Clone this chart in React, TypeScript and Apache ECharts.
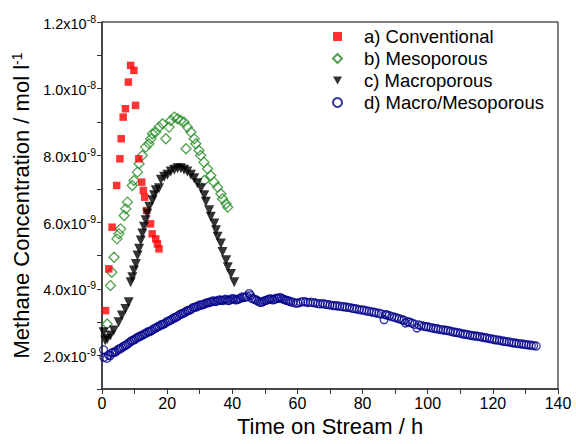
import React, { useEffect, useRef } from "react";
import * as echarts from "echarts";

// Values are in units of 1e-9 mol/l; time in hours.
const conventional: number[][] = [
  [1.1, 3.35], [2.1, 4.6], [3.1, 5.85], [4.5, 7.1], [5.5, 7.9], [5.9, 8.5],
  [6.5, 9.15], [7.2, 9.4], [8.1, 10.2], [8.8, 10.7], [9.8, 10.55], [10.3, 9.5],
  [11.3, 7.9], [12.2, 7.2], [12.7, 6.95], [13.1, 6.75], [13.7, 6.35], [14.9, 5.95],
  [15.4, 5.65], [16.5, 5.5], [17.0, 5.35], [17.5, 5.2],
];

const mesoporous: number[][] = [
  [1.6, 2.95], [2.6, 4.1], [3.0, 4.5], [3.7, 4.95], [4.6, 5.5], [5.2, 5.65],
  [5.7, 5.8], [6.8, 6.2], [7.3, 6.4], [7.8, 6.6], [9.3, 7.1], [9.8, 7.25],
  [10.9, 7.5], [11.4, 7.75], [12.4, 8.0], [13.4, 8.25], [14.4, 8.35], [15.0, 8.5],
  [15.5, 8.65], [16.5, 8.7], [17.5, 8.85], [18.6, 8.95], [19.6, 8.5], [20.6, 8.85],
  [21.1, 9.05], [22.2, 9.15], [23.2, 9.1], [24.2, 9.05], [25.2, 9.0], [25.8, 8.2],
  [26.2, 8.85], [27.3, 8.7], [28.3, 8.5], [28.8, 8.35], [29.8, 8.15], [30.3, 8.0],
  [31.3, 7.8], [31.4, 7.25], [32.4, 7.6], [33.4, 7.4], [34.4, 7.2], [35.5, 7.05],
  [36.5, 6.85], [37.0, 6.7], [38.1, 6.55], [38.6, 6.45],
];

const macroporous: number[][] = [
  [0.5, 2.7], [1.0, 2.45], [1.6, 2.5], [2.6, 2.6], [3.6, 2.75], [5.1, 3.0],
  [6.1, 3.2], [7.2, 3.4], [8.2, 3.6], [8.8, 4.2], [9.3, 4.35], [9.8, 4.55],
  [10.4, 4.75], [10.9, 5.0], [11.4, 5.2], [11.9, 5.45], [12.4, 5.66], [12.9, 5.86],
  [13.4, 6.06], [13.9, 6.26], [14.5, 6.46], [15.5, 6.66], [16.0, 6.81], [16.5, 6.96],
  [17.5, 7.02], [18.1, 7.27], [19.1, 7.36], [20.1, 7.42], [21.1, 7.52], [22.2, 7.57],
  [23.2, 7.62], [24.2, 7.62], [25.2, 7.57], [26.2, 7.52], [27.3, 7.42], [28.3, 7.32],
  [29.3, 7.17], [30.4, 7.02], [31.4, 6.81], [31.9, 6.61], [32.9, 6.36], [33.4, 6.16],
  [34.5, 5.96], [35.0, 5.76], [35.5, 5.56], [36.5, 5.36], [37.0, 5.11], [38.1, 4.86],
  [38.6, 4.65], [39.6, 4.45], [40.6, 4.2],
];

const macroMeso: number[][] = [
  [0.5, 2.17], [0.6, 1.95], [1.5, 1.92], [2.0, 2.02], [2.5, 2.0], [3.0, 2.08], [3.5, 2.1],
  [4.0, 2.1], [4.5, 2.14], [5.0, 2.19], [5.5, 2.2], [6.0, 2.23], [6.5, 2.27], [7.0, 2.3],
  [7.5, 2.32], [8.0, 2.36], [8.5, 2.4], [9.0, 2.44], [9.5, 2.46], [10.0, 2.48], [10.5, 2.52],
  [11.0, 2.55], [11.5, 2.57], [12.0, 2.6], [12.5, 2.62], [13.0, 2.65], [13.5, 2.67],
  [14.0, 2.71], [14.5, 2.72], [15.0, 2.74], [15.5, 2.77], [16.0, 2.81], [16.5, 2.83],
  [17.0, 2.86], [17.5, 2.88], [18.0, 2.92], [18.5, 2.93], [19.0, 2.95], [19.5, 2.98],
  [20.0, 3.02], [20.5, 3.04], [21.0, 3.06], [21.5, 3.09], [22.0, 3.13], [22.5, 3.14],
  [23.0, 3.17], [23.5, 3.2], [24.0, 3.24], [24.5, 3.25], [25.0, 3.27], [25.5, 3.3],
  [26.0, 3.34], [26.5, 3.35], [27.0, 3.37], [27.5, 3.4], [28.0, 3.44], [28.5, 3.45],
  [29.0, 3.46], [29.5, 3.49], [30.0, 3.52], [30.5, 3.51], [31.0, 3.53], [31.5, 3.55],
  [32.0, 3.58], [32.5, 3.58], [33.0, 3.6], [33.5, 3.61], [34.0, 3.64], [34.5, 3.63],
  [35.0, 3.62], [35.5, 3.65], [36.0, 3.67], [36.5, 3.66], [37.0, 3.65], [37.5, 3.67],
  [38.0, 3.69], [38.5, 3.66], [39.0, 3.65], [39.5, 3.68], [40.0, 3.71], [40.5, 3.7],
  [41.0, 3.67], [41.5, 3.68], [42.0, 3.7], [42.5, 3.72], [43.0, 3.76], [43.5, 3.74],
  [44.0, 3.75], [44.5, 3.78], [45.2, 3.86], [45.6, 3.8], [46.0, 3.72], [46.5, 3.7],
  [47.0, 3.68], [47.5, 3.66], [48.0, 3.63], [48.5, 3.6], [49.0, 3.6], [49.5, 3.62],
  [50.0, 3.65], [50.5, 3.66], [51.0, 3.68], [51.5, 3.7], [52.0, 3.7], [52.5, 3.67],
  [53.0, 3.69], [53.5, 3.72], [54.0, 3.71], [54.5, 3.74], [55.0, 3.73], [55.5, 3.7],
  [56.0, 3.68], [56.5, 3.66], [57.0, 3.65], [57.5, 3.63], [58.0, 3.61], [58.7, 3.6],
  [59.5, 3.57], [60.2, 3.58], [61.0, 3.6], [61.8, 3.62], [62.5, 3.61], [63.2, 3.59],
  [64.0, 3.6], [64.8, 3.59], [65.5, 3.58], [66.2, 3.56], [67.0, 3.55], [67.8, 3.56],
  [68.5, 3.54], [69.2, 3.53], [70.0, 3.52], [70.8, 3.5], [71.5, 3.5], [72.2, 3.49],
  [73.0, 3.48], [73.8, 3.47], [74.5, 3.46], [75.2, 3.45], [76.0, 3.44], [76.8, 3.42],
  [77.5, 3.41], [78.2, 3.4], [79.0, 3.38], [79.8, 3.37], [80.5, 3.36], [81.2, 3.34],
  [82.0, 3.33], [82.8, 3.31], [83.5, 3.3], [84.2, 3.28], [85.0, 3.27], [85.8, 3.25],
  [86.6, 3.08], [87.0, 3.23], [87.5, 3.22], [88.2, 3.2], [89.0, 3.17], [89.8, 3.15],
  [90.5, 3.13], [91.2, 3.11], [92.0, 3.08], [92.7, 3.06], [93.2, 2.98], [93.8, 3.02],
  [94.5, 3.0], [95.2, 2.97], [96.0, 2.94], [96.7, 2.83], [97.3, 2.92], [98.0, 2.9],
  [98.8, 2.88], [99.5, 2.87], [100.2, 2.86], [101.0, 2.84], [101.8, 2.82], [102.5, 2.81],
  [103.2, 2.8], [104.0, 2.78], [104.8, 2.77], [105.5, 2.76], [106.2, 2.75], [107.0, 2.73],
  [107.8, 2.71], [108.5, 2.7], [109.2, 2.69], [110.0, 2.67], [110.8, 2.65], [111.5, 2.64],
  [112.2, 2.63], [113.0, 2.61], [113.8, 2.6], [114.5, 2.59], [115.2, 2.58], [116.0, 2.57],
  [116.8, 2.55], [117.5, 2.54], [118.2, 2.53], [119.0, 2.51], [119.8, 2.5], [120.5, 2.48],
  [121.2, 2.47], [122.0, 2.46], [122.8, 2.44], [123.5, 2.43], [124.2, 2.42], [125.0, 2.41],
  [125.8, 2.39], [126.5, 2.38], [127.2, 2.37], [128.0, 2.36], [128.8, 2.35], [129.5, 2.34],
  [130.2, 2.33], [131.0, 2.32], [131.8, 2.31], [132.5, 2.3], [133.3, 2.29],
];

const xTickLabels = [0, 20, 40, 60, 80, 100, 120, 140];
const yTickLabels = [2, 4, 6, 8, 10, 12];

const FONT = "'Liberation Sans', Arial, sans-serif";

function yLabel(v: number): string {
  const r = Math.round(v);
  if (!yTickLabels.includes(r)) return "";
  if (r >= 10) return `{m|${(r / 10).toFixed(1)}x10}{e|-8}`;
  return `{m|${r.toFixed(1)}x10}{e|-9}`;
}

export default function App() {
  const ref = useRef<HTMLDivElement>(null);
  useEffect(() => {
    if (!ref.current) return;
    const chart = echarts.init(ref.current, null, { renderer: "svg" });
    const axisColor = "#333";
    chart.setOption({
      animation: false,
      backgroundColor: "#fff",
      textStyle: { fontFamily: FONT },
      grid: {
        left: 102, right: 18, top: 22, bottom: 55,
        show: true, borderColor: "#000", borderWidth: 1,
      },
      legend: {
        orient: "vertical",
        left: 327,
        top: 22,
        itemWidth: 9,
        itemHeight: 9,
        itemGap: 3,
        selectedMode: false,
        textStyle: { fontSize: 18.5, color: "#000", fontFamily: FONT, padding: [0, 0, 0, 17] },
        data: [
          "a) Conventional",
          "b) Mesoporous",
          { name: "c) Macroporous", icon: "path://M0,0L10,0L5,9Z" },
          "d) Macro/Mesoporous",
        ],
      },
      xAxis: {
        type: "value",
        min: 0,
        max: 140,
        interval: 10,
        name: "Time on Stream / h",
        nameLocation: "middle",
        nameGap: 17,
        nameTextStyle: { fontSize: 22, color: "#000", fontFamily: FONT },
        axisLine: { show: true, onZero: false, lineStyle: { color: axisColor, width: 1.5 } },
        axisTick: { show: true, length: 5, lineStyle: { color: axisColor, width: 1 } },
        axisLabel: {
          fontSize: 16, color: "#000", margin: 6, fontFamily: FONT,
          formatter: (v: number) => (xTickLabels.includes(Math.round(v)) ? String(Math.round(v)) : ""),
        },
        splitLine: { show: false },
      },
      yAxis: {
        type: "value",
        min: 1,
        max: 12,
        interval: 1,
        name: "Methane Concentration / mol l{s|-1}",
        nameLocation: "middle",
        nameGap: 62,
        nameTextStyle: {
          fontSize: 22, color: "#000", fontFamily: FONT,
          rich: { s: { fontSize: 14, color: "#000", verticalAlign: "top", lineHeight: 12, fontFamily: FONT } },
        },
        axisLine: { show: true, onZero: false, lineStyle: { color: axisColor, width: 1.5 } },
        axisTick: { show: true, length: 5, lineStyle: { color: axisColor, width: 1 } },
        axisLabel: {
          margin: 6,
          formatter: yLabel,
          rich: {
            m: { fontSize: 14.5, color: "#000", fontFamily: FONT, lineHeight: 18, verticalAlign: "bottom" },
            e: { fontSize: 10.5, color: "#000", fontFamily: FONT, lineHeight: 10, verticalAlign: "top" },
          },
        },
        splitLine: { show: false },
      },
      series: [
        {
          name: "b) Mesoporous",
          type: "scatter",
          data: mesoporous,
          symbol: "diamond",
          symbolSize: 10,
          silent: true,
          itemStyle: { color: "rgba(255,255,255,0)", borderColor: "#228b22", borderWidth: 1.3 },
          z: 2,
        },
        {
          name: "a) Conventional",
          type: "scatter",
          data: conventional,
          symbol: "rect",
          symbolSize: 7.5,
          silent: true,
          itemStyle: { color: "#ff0000" },
          z: 3,
        },
        {
          name: "c) Macroporous",
          type: "scatter",
          data: macroporous,
          symbol: "triangle",
          symbolRotate: 180,
          symbolSize: 10,
          silent: true,
          itemStyle: { color: "#000" },
          z: 4,
        },
        {
          name: "d) Macro/Mesoporous",
          type: "scatter",
          data: macroMeso,
          symbol: "circle",
          symbolSize: 8,
          silent: true,
          itemStyle: { color: "rgba(255,255,255,0)", borderColor: "#00008b", borderWidth: 1.3 },
          z: 5,
        },
      ],
    });
    return () => chart.dispose();
  }, []);
  return <div ref={ref} style={{ width: 576, height: 444, position: "absolute", left: 0, top: 0 }} />;
}
